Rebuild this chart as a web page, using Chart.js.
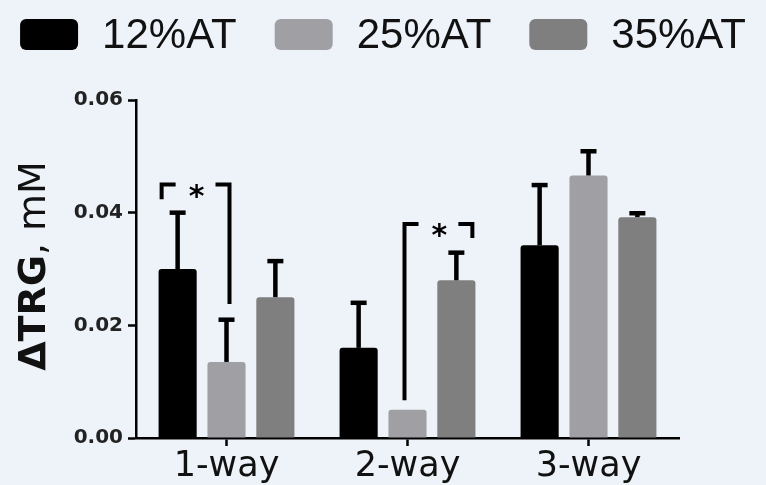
<!DOCTYPE html>
<html>
<head>
<meta charset="utf-8">
<title>ΔTRG by access type</title>
<script src="https://cdn.jsdelivr.net/npm/chart.js@4.4.1/dist/chart.umd.min.js"></script>
<style>
  html, body { margin: 0; padding: 0; background: #eef3fa; }
  #wrap { width: 766px; height: 485px; position: relative; }
</style>
</head>
<body>
<div id="wrap"><canvas id="c"></canvas></div>
<script>
// ---- data ----
const categories = ['1-way', '2-way', '3-way'];
const seriesNames = ['12%AT', '25%AT', '35%AT'];
const at12 = [0.0300, 0.0160, 0.0342];
const at25 = [0.0135, 0.0050, 0.0466];
const at35 = [0.0250, 0.0280, 0.0392];
// upper error (SEM) for each bar
const at12Err = [0.0100, 0.0080, 0.0107];
const at25Err = [0.0075, 0.0000, 0.0043];
const at35Err = [0.0064, 0.0049, 0.0007];
const yTicks = [0.00, 0.02, 0.04, 0.06];
const yTitleMain = 'ΔTRG';
const yTitleUnit = ', mM';
// significance brackets: category index, left/right series, bracket level, leg end levels
const brackets = [
  { group: 0, from: 0, to: 1, top: 0.0450, leftEnd: 0.0424, rightEnd: 0.0238, label: '*' },
  { group: 1, from: 1, to: 2, top: 0.0380, leftEnd: 0.0067, rightEnd: 0.0355, label: '*' }
];
const colors = ['#000000', '#a0a0a4', '#7f7f7f'];

function roundRectPath(ctx, x, y, w, h, r) {
  ctx.beginPath();
  ctx.moveTo(x + r, y);
  ctx.arcTo(x + w, y, x + w, y + h, r);
  ctx.arcTo(x + w, y + h, x, y + h, r);
  ctx.arcTo(x, y + h, x, y, r);
  ctx.arcTo(x, y, x + w, y, r);
  ctx.closePath();
}

// vertical error whiskers above each bar
const errorBars = {
  id: 'errorBars',
  afterDatasetsDraw(chart) {
    const { ctx } = chart;
    const y = chart.scales.y;
    ctx.save();
    ctx.strokeStyle = '#000';
    ctx.lineCap = 'butt';
    chart.data.datasets.forEach((ds, di) => {
      const meta = chart.getDatasetMeta(di);
      meta.data.forEach((bar, i) => {
        const err = ds.errors[i];
        if (!err) return;
        const yTop = y.getPixelForValue(ds.data[i] + err);
        ctx.lineWidth = 4.5;
        ctx.beginPath();
        ctx.moveTo(bar.x, bar.y);
        ctx.lineTo(bar.x, yTop);
        ctx.stroke();
        ctx.beginPath();
        ctx.moveTo(bar.x - 8, yTop);
        ctx.lineTo(bar.x + 8, yTop);
        ctx.stroke();
      });
    });
    ctx.restore();
  }
};

// significance brackets with asterisk
const sigBrackets = {
  id: 'sigBrackets',
  afterDatasetsDraw(chart) {
    const { ctx } = chart;
    const y = chart.scales.y;
    ctx.save();
    ctx.strokeStyle = '#000';
    ctx.fillStyle = '#000';
    ctx.lineWidth = 4;
    ctx.lineJoin = 'miter';
    ctx.lineCap = 'butt';
    brackets.forEach(b => {
      const xa = chart.getDatasetMeta(b.from).data[b.group].x;
      const xb = chart.getDatasetMeta(b.to).data[b.group].x;
      const leftShort = b.leftEnd > b.rightEnd;
      const xl = xa - (leftShort ? 16 : 3);
      const xr = xb + (leftShort ? 3 : 16);
      const yt = y.getPixelForValue(b.top);
      ctx.beginPath();
      ctx.moveTo(xl, y.getPixelForValue(b.leftEnd));
      ctx.lineTo(xl, yt);
      ctx.lineTo(xl + 14, yt);
      ctx.moveTo(xr - 14, yt);
      ctx.lineTo(xr, yt);
      ctx.lineTo(xr, y.getPixelForValue(b.rightEnd));
      ctx.stroke();
      ctx.font = 'bold 30px "DejaVu Sans"';
      ctx.textAlign = 'center';
      ctx.textBaseline = 'alphabetic';
      ctx.fillText(b.label, (xl + xr) / 2 + 1, yt + 21);
    });
    ctx.restore();
  }
};

// rotated y-axis title, bold quantity and regular unit
const yTitle = {
  id: 'yTitle',
  afterDraw(chart) {
    const { ctx, chartArea } = chart;
    const boldFont = 'bold 38px "DejaVu Sans"';
    const normalFont = '38px "DejaVu Sans"';
    ctx.save();
    ctx.font = boldFont;
    const w1 = ctx.measureText(yTitleMain).width;
    ctx.font = normalFont;
    const w2 = ctx.measureText(yTitleUnit).width;
    const cy = (chartArea.top + chartArea.bottom) / 2 - 3;
    ctx.translate(45, cy);
    ctx.rotate(-Math.PI / 2);
    ctx.fillStyle = '#111';
    ctx.textAlign = 'left';
    ctx.textBaseline = 'alphabetic';
    ctx.font = boldFont;
    ctx.fillText(yTitleMain, -(w1 + w2) / 2, 0);
    ctx.font = normalFont;
    ctx.fillText(yTitleUnit, -(w1 + w2) / 2 + w1, 0);
    ctx.restore();
  }
};

// legend row across the top
const topLegend = {
  id: 'topLegend',
  afterDraw(chart) {
    const { ctx, width } = chart;
    ctx.save();
    ctx.font = '42px "Liberation Sans"';
    const boxW = 58, boxH = 31, gap = 24, spacing = 38;
    const items = chart.data.datasets.map(ds => ({
      text: ds.label, color: ds.backgroundColor, w: ctx.measureText(ds.label).width
    }));
    const total = items.reduce((s, it) => s + boxW + gap + it.w, 0) + spacing * (items.length - 1);
    let x = (width - total) / 2;
    items.forEach(it => {
      ctx.fillStyle = it.color;
      roundRectPath(ctx, x, 19, boxW, boxH, 6);
      ctx.fill();
      ctx.fillStyle = '#111';
      ctx.textAlign = 'left';
      ctx.textBaseline = 'alphabetic';
      ctx.fillText(it.text, x + boxW + gap, 48);
      x += boxW + gap + it.w + spacing;
    });
    ctx.restore();
  }
};

const seriesValues = [at12, at25, at35];
const seriesErrors = [at12Err, at25Err, at35Err];

new Chart(document.getElementById('c'), {
  type: 'bar',
  data: {
    labels: categories,
    datasets: seriesNames.map((name, i) => ({
      label: name,
      data: seriesValues[i],
      errors: seriesErrors[i],
      backgroundColor: colors[i],
      borderRadius: 3
    }))
  },
  options: {
    responsive: true,
    maintainAspectRatio: false,
    animation: false,
    layout: { padding: { top: 100, right: 87, bottom: -2, left: 0 } },
    datasets: { bar: { categoryPercentage: 0.81, barPercentage: 0.78 } },
    plugins: { legend: { display: false }, tooltip: { enabled: false } },
    scales: {
      x: {
        offset: true,
        grid: { display: true, drawOnChartArea: false, drawTicks: true, offset: false,
                tickLength: 8, tickWidth: 2.5, tickColor: '#000' },
        border: { display: true, color: '#000', width: 2.5 },
        ticks: { color: '#111', padding: 3, maxRotation: 0, autoSkip: false,
                 font: { family: 'DejaVu Sans', size: 35, lineHeight: 1 } }
      },
      y: {
        min: 0,
        max: 0.06,
        afterBuildTicks: s => { s.ticks = yTicks.map(v => ({ value: v })); },
        afterFit: s => { s.width = 136; },
        grid: { drawOnChartArea: false, drawTicks: true, tickLength: 8, tickWidth: 2.5, tickColor: '#000' },
        border: { display: true, color: '#000', width: 2.5 },
        ticks: { color: '#222', padding: 5, callback: v => v.toFixed(2),
                 font: { family: 'DejaVu Sans', weight: 'bold', size: 20 } }
      }
    }
  },
  plugins: [errorBars, sigBrackets, yTitle, topLegend]
});
</script>
</body>
</html>
